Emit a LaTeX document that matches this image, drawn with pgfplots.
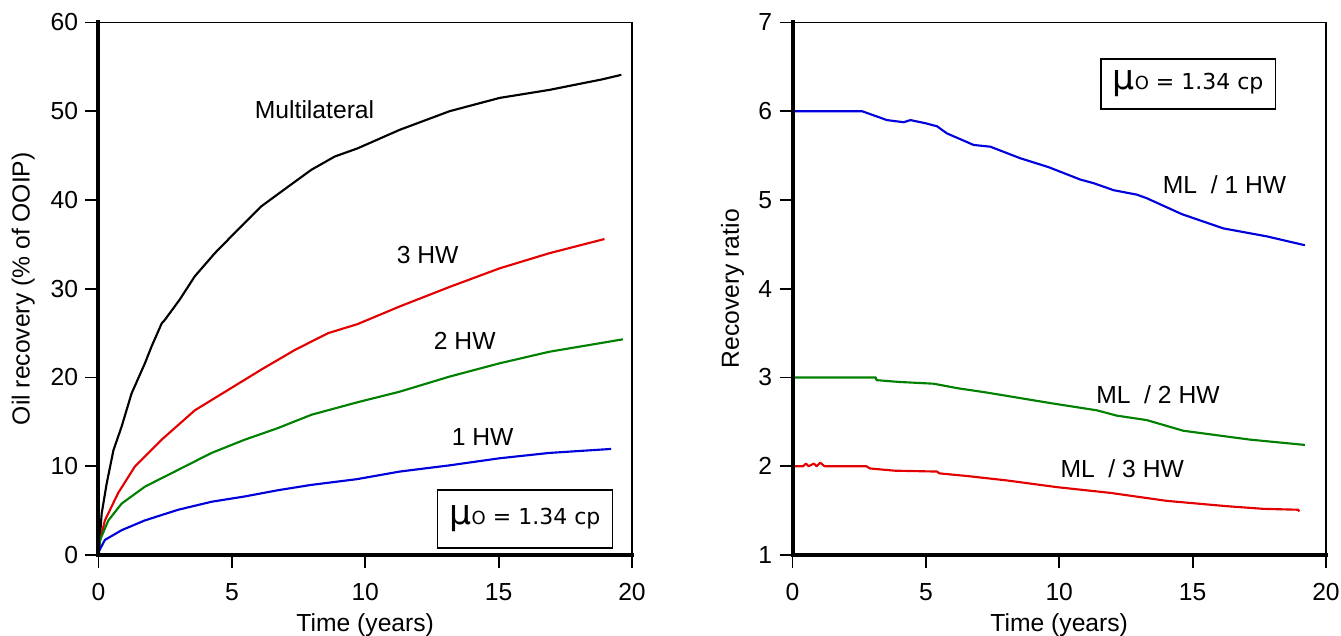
\documentclass[border=0pt]{standalone}
\usepackage{fontspec}
\setmainfont{Liberation Sans}
\newfontfamily\djv{DejaVu Sans}
\usepackage{pgfplots}
\pgfplotsset{compat=1.18}
\definecolor{cblue}{RGB}{0,0,220}
\definecolor{cred}{RGB}{228,0,0}
\definecolor{cgreen}{RGB}{0,128,0}
\newcommand{\fs}{\fontsize{18.5}{21}\selectfont}
\pgfplotsset{mystyle/.style={
  scale only axis, width=400.1pt, height=399.4pt,
  xmin=0, xmax=20, xtick={0,5,10,15,20},
  axis line style={line width=1.4pt},
  tick align=outside, xtick pos=left, ytick pos=left,
  major tick length=9.75pt,
  every tick/.style={black, line width=1.4pt},
  tick label style={font=\fs},
  label style={font=\fs},
  /pgf/number format/assume math mode=true,
  xticklabel style={yshift=-8pt},
  yticklabel style={xshift=-2pt},
  clip=false,
  every axis plot/.append style={line width=1.6pt, line join=round},
}}
\newcommand{\mubox}{{\fontsize{26}{27}\selectfont\djv μ}{\fontsize{13.5}{14}\selectfont\djv O}{\fontsize{16.5}{18}\selectfont\djv\ = 1.34 cp}}
\begin{document}
\begin{tikzpicture}
% ---------------- left panel
\begin{axis}[mystyle, at={(0pt,0pt)}, anchor=south west,
  ymin=0, ymax=60, ytick={0,10,...,60},
  xlabel={Time (years)}, ylabel={Oil recovery (\% of OOIP)},
  xlabel style={yshift=-2.5pt}, ylabel style={yshift=5pt}]
\addplot[black] coordinates {
(0,0) (0.03,1) (0.12,4.7) (0.31,8.1) (0.56,11.8) (0.87,14.5) (1.24,18.2) (1.74,21.6) (1.99,23.5) (2.37,26.1) (2.49,26.5) (3.05,28.8) (3.61,31.4) (4.36,34.0) (5.11,36.3) (6.11,39.3) (7.11,41.5) (7.98,43.4) (8.86,44.9) (9.7,45.8) (11.29,47.9) (13.16,50.0) (15.04,51.5) (16.9,52.4) (18.9,53.6) (19.6,54.1)};
\addplot[cred] coordinates {
(0,0) (0.05,1.5) (0.24,3.9) (0.74,7.0) (1.37,10.0) (2.37,13.0) (3.61,16.3) (4.86,18.6) (6.11,20.9) (7.36,23.1) (8.61,25.0) (9.7,26.0) (11.29,28.0) (13.16,30.2) (15.04,32.3) (16.9,34.0) (18.97,35.6)};
\addplot[cgreen] coordinates {
(0,0) (0.06,1.7) (0.37,3.9) (0.87,5.8) (1.74,7.7) (2.99,9.6) (4.24,11.5) (5.49,13.0) (6.73,14.3) (7.98,15.8) (9.7,17.2) (11.29,18.4) (13.16,20.1) (15.04,21.6) (16.9,22.9) (19.66,24.3)};
\addplot[cblue] coordinates {
(0,0) (0.03,0.5) (0.24,1.7) (0.87,2.8) (1.74,3.9) (2.99,5.1) (4.24,6.0) (5.49,6.6) (6.73,7.3) (7.98,7.9) (9.7,8.55) (11.29,9.4) (13.16,10.1) (15.04,10.9) (16.9,11.5) (19.22,11.95)};
\node[font=\fs] at (axis cs:8.1,50.2) {Multilateral};
\node[font=\fs] at (axis cs:12.34,33.8) {3 HW};
\node[font=\fs] at (axis cs:13.73,24.1) {2 HW};
\node[font=\fs] at (axis cs:14.4,13.3) {1 HW};
\node[draw, line width=1.2pt, minimum width=131pt, minimum height=43.5pt, inner sep=0pt] at (axis cs:15.99,4.06) {\mubox};
\draw[line width=3pt, line cap=rect] (rel axis cs:0,1) -- (rel axis cs:0,0) -- (rel axis cs:1,0);
\end{axis}
% ---------------- right panel
\begin{axis}[mystyle, at={(520.5pt,0pt)}, anchor=south west,
  ymin=1, ymax=7, ytick={1,2,...,7},
  xlabel={Time (years)}, ylabel={Recovery ratio},
  xlabel style={yshift=-2.5pt}, ylabel style={yshift=4pt}]
\addplot[cblue] coordinates {
(0,6.0) (2.61,6.0) (3.54,5.90) (4.17,5.876) (4.42,5.90) (4.98,5.865) (5.42,5.83) (5.79,5.75) (6.79,5.62) (7.42,5.60) (8.54,5.47) (9.6,5.37) (10.79,5.23) (11.28,5.19) (12.04,5.11) (12.91,5.06) (13.28,5.02) (14.6,4.84) (16.15,4.68) (17.78,4.59) (19.21,4.49)};
\addplot[cgreen] coordinates {
(0,3.0) (3.12,3.0) (3.15,2.97) (3.98,2.95) (5.29,2.93) (6.17,2.88) (7.29,2.83) (8.29,2.78) (9.7,2.71) (11.41,2.63) (12.16,2.57) (13.28,2.52) (14.65,2.40) (17.15,2.30) (19.21,2.24)};
\addplot[cred] coordinates {
(0,2.0) (0.4,2.0) (0.5,2.03) (0.6,2.0) (0.8,2.03) (0.9,2.0) (1.04,2.04) (1.2,2.0) (2.77,2.0) (2.9,1.975) (3.83,1.95) (5.42,1.94) (5.5,1.92) (6.54,1.89) (8.04,1.84) (9.9,1.765) (11.91,1.70) (14.03,1.61) (16.28,1.55) (17.65,1.52) (18.96,1.51) (19.0,1.49)};
\node[font=\fs] at (axis cs:16.2,5.17) {ML~~/ 1 HW};
\node[font=\fs] at (axis cs:13.7,2.81) {ML~~/ 2 HW};
\node[font=\fs] at (axis cs:12.36,1.97) {ML~~/ 3 HW};
\node[draw, line width=1.2pt, minimum width=131pt, minimum height=37.5pt, inner sep=0pt] at (axis cs:14.83,6.31) {\mubox};
\draw[line width=3pt, line cap=rect] (rel axis cs:0,1) -- (rel axis cs:0,0) -- (rel axis cs:1,0);
\end{axis}
\pgfresetboundingbox
\path (-73.875pt,-60pt) rectangle ++(1005.75pt,476.25pt);
\end{tikzpicture}
\end{document}
